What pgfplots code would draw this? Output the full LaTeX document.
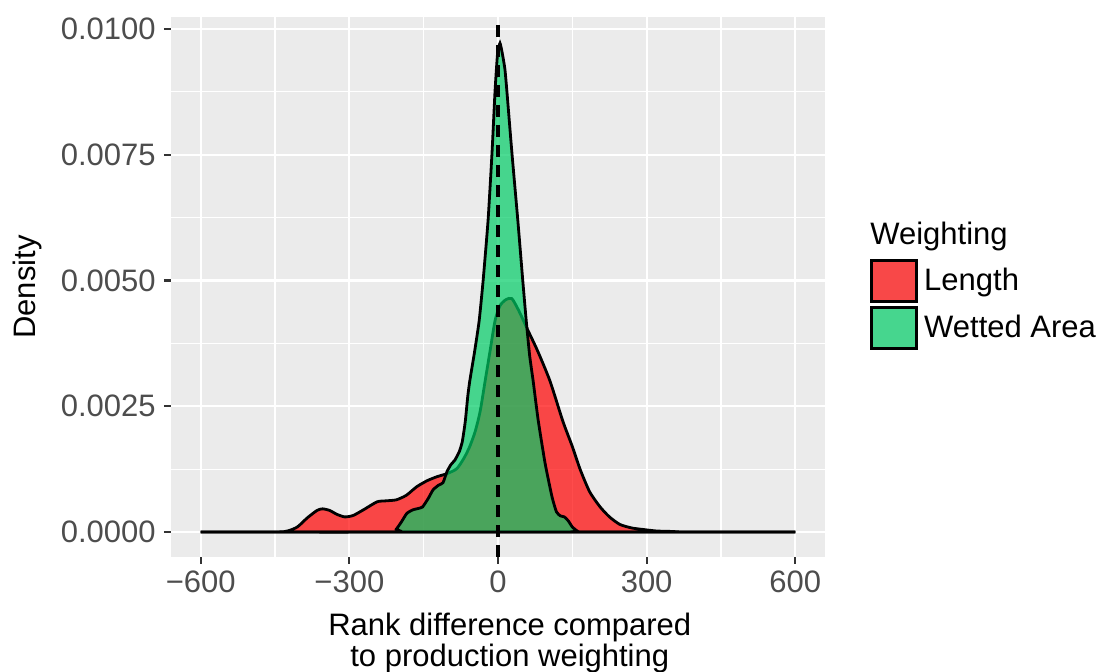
\documentclass[border=0pt]{standalone}
\usepackage{fontspec}
\setmainfont{Liberation Sans}
\usepackage{pgfplots}
\pgfplotsset{compat=1.18}
\definecolor{panelGray}{HTML}{EBEBEB}
\definecolor{tickGray}{HTML}{333333}
\definecolor{labGray}{HTML}{4D4D4D}
\definecolor{lenRed}{HTML}{FF0000}
\definecolor{wetGreen}{HTML}{00CD66}
\definecolor{legRed}{HTML}{F84848}
\definecolor{legGreen}{HTML}{46D68E}

\begin{document}
\begin{tikzpicture}
\useasboundingbox (-85.5pt,-57.5pt) rectangle (467pt,278.5pt);
\begin{axis}[
  scale only axis,
  width=327pt, height=270pt,
  xmin=-660, xmax=660,
  ymin=-0.000497, ymax=0.01024,
  axis background/.style={fill=panelGray},
  axis line style={draw=none},
  xtick={-600,-300,0,300,600},
  xticklabels={−600,−300,0,300,600},
  ytick={0,0.0025,0.005,0.0075,0.01},
  yticklabels={0.0000,0.0025,0.0050,0.0075,0.0100},
  scaled y ticks=false,
  minor x tick num=1, minor y tick num=1,
  grid=both,
  major grid style={draw=white, line width=1.1pt},
  minor grid style={draw=white, line width=0.55pt},
  tick align=outside,
  major tick length=3.5pt,
  minor tick length=0pt,
  xtick pos=bottom, ytick pos=left,
  major tick style={draw=tickGray, line width=1.1pt},
  tick label style={font=\fontsize{15.5}{16}\selectfont, text=labGray},
  xticklabel style={inner sep=1pt, yshift=-2pt},
  yticklabel style={inner sep=1pt, xshift=-3pt},
  xlabel={Rank difference compared\\to production weighting},
  xlabel style={at={(rel axis cs:0.518,-0.103)}, anchor=north, align=center,
    font=\fontsize{15.5}{12.5}\selectfont, inner sep=0pt},
  ylabel={Density},
  ylabel style={at={(rel axis cs:-0.2187,0.5)}, anchor=center, rotate=0,
    font=\fontsize{15.5}{16}\selectfont, inner sep=0pt},
  legend image code/.code={\draw[#1] (0pt,-10.25pt) rectangle (22.5pt,10.25pt);},
  legend style={draw=none, fill=none, at={(rel axis cs:1.0688,0.552)}, anchor=north west,
    inner sep=0pt, row sep=1.5pt, font=\fontsize{15.5}{16}\selectfont,
    cells={anchor=west}, /tikz/every odd column/.append style={column sep=1pt}},
  clip=false,
]
% Length
\addplot[forget plot, draw=black, line width=1.4pt, fill=lenRed, fill opacity=0.7, smooth, tension=0.4] coordinates {
  (-600,0) (-450,0) (-425,0.00002) (-405,0.0001) (-385,0.00028) (-365,0.00043) (-354,0.00046)
  (-340,0.00043) (-325,0.00035) (-309,0.0003) (-292,0.00033) (-270,0.00045) (-244,0.0006)
  (-225,0.00062) (-205,0.00064) (-185,0.00073) (-164,0.0009) (-143,0.00102) (-123,0.0011)
  (-103,0.00116) (-83,0.00126) (-68,0.00148) (-57,0.0017) (-46,0.002) (-36,0.0024)
  (-26,0.003) (-16,0.0036) (-6,0.0042) (4,0.0045) (16,0.00462) (28,0.00464) (42,0.0044)
  (58,0.00406) (80,0.0036) (105,0.003) (131,0.0022) (150,0.0017) (166,0.00124)
  (185,0.0008) (206,0.0005) (225,0.0003) (246,0.00015) (270,0.00008) (293,0.00005)
  (320,0.00002) (354,0.00001) (380,0) (600,0)
} \closedcycle;
% Wetted Area
\addplot[forget plot, draw=black, line width=1.4pt, fill=wetGreen, fill opacity=0.7, smooth, tension=0.3] coordinates {
  (-600,0) (-215,0) (-205,0.00006) (-195,0.0002) (-184,0.00037) (-172,0.00044) (-160,0.00047)
  (-152,0.0005) (-140,0.00068) (-131,0.00084) (-120,0.00093) (-111,0.00098) (-103,0.0012)
  (-95,0.00134) (-87,0.00143) (-78,0.0016) (-72,0.0018) (-66,0.0022) (-61,0.0027)
  (-57,0.003) (-47,0.0036) (-38,0.0042) (-30,0.005) (-20,0.0062) (-12,0.00755)
  (-6,0.00876) (-1,0.0095) (4,0.00972) (9,0.0095) (14,0.0092) (18,0.00876) (28,0.00755)
  (40,0.0062) (50,0.005) (57,0.0042) (64,0.0035) (71,0.003) (81,0.00223) (95,0.00137)
  (109,0.0007) (118,0.0004) (126,0.00032) (134,0.0003) (142,0.00022) (150,0.0001)
  (160,0.00002) (170,0) (600,0)
} \closedcycle;
% dashed reference line
\addplot[forget plot, draw=black, line width=1.6pt, dash pattern=on 6pt off 4pt] coordinates {(0,-0.000497) (0,0.01024)};
\addlegendimage{draw=black, line width=1.4pt, fill=legRed}
\addlegendentry{Length}
\addlegendimage{draw=black, line width=1.4pt, fill=legGreen}
\addlegendentry{Wetted Area}
\node[anchor=west, inner sep=0pt, font=\fontsize{15.5}{16}\selectfont] at (rel axis cs:1.0688,0.5926) {Weighting};
\end{axis}
\end{tikzpicture}
\end{document}
